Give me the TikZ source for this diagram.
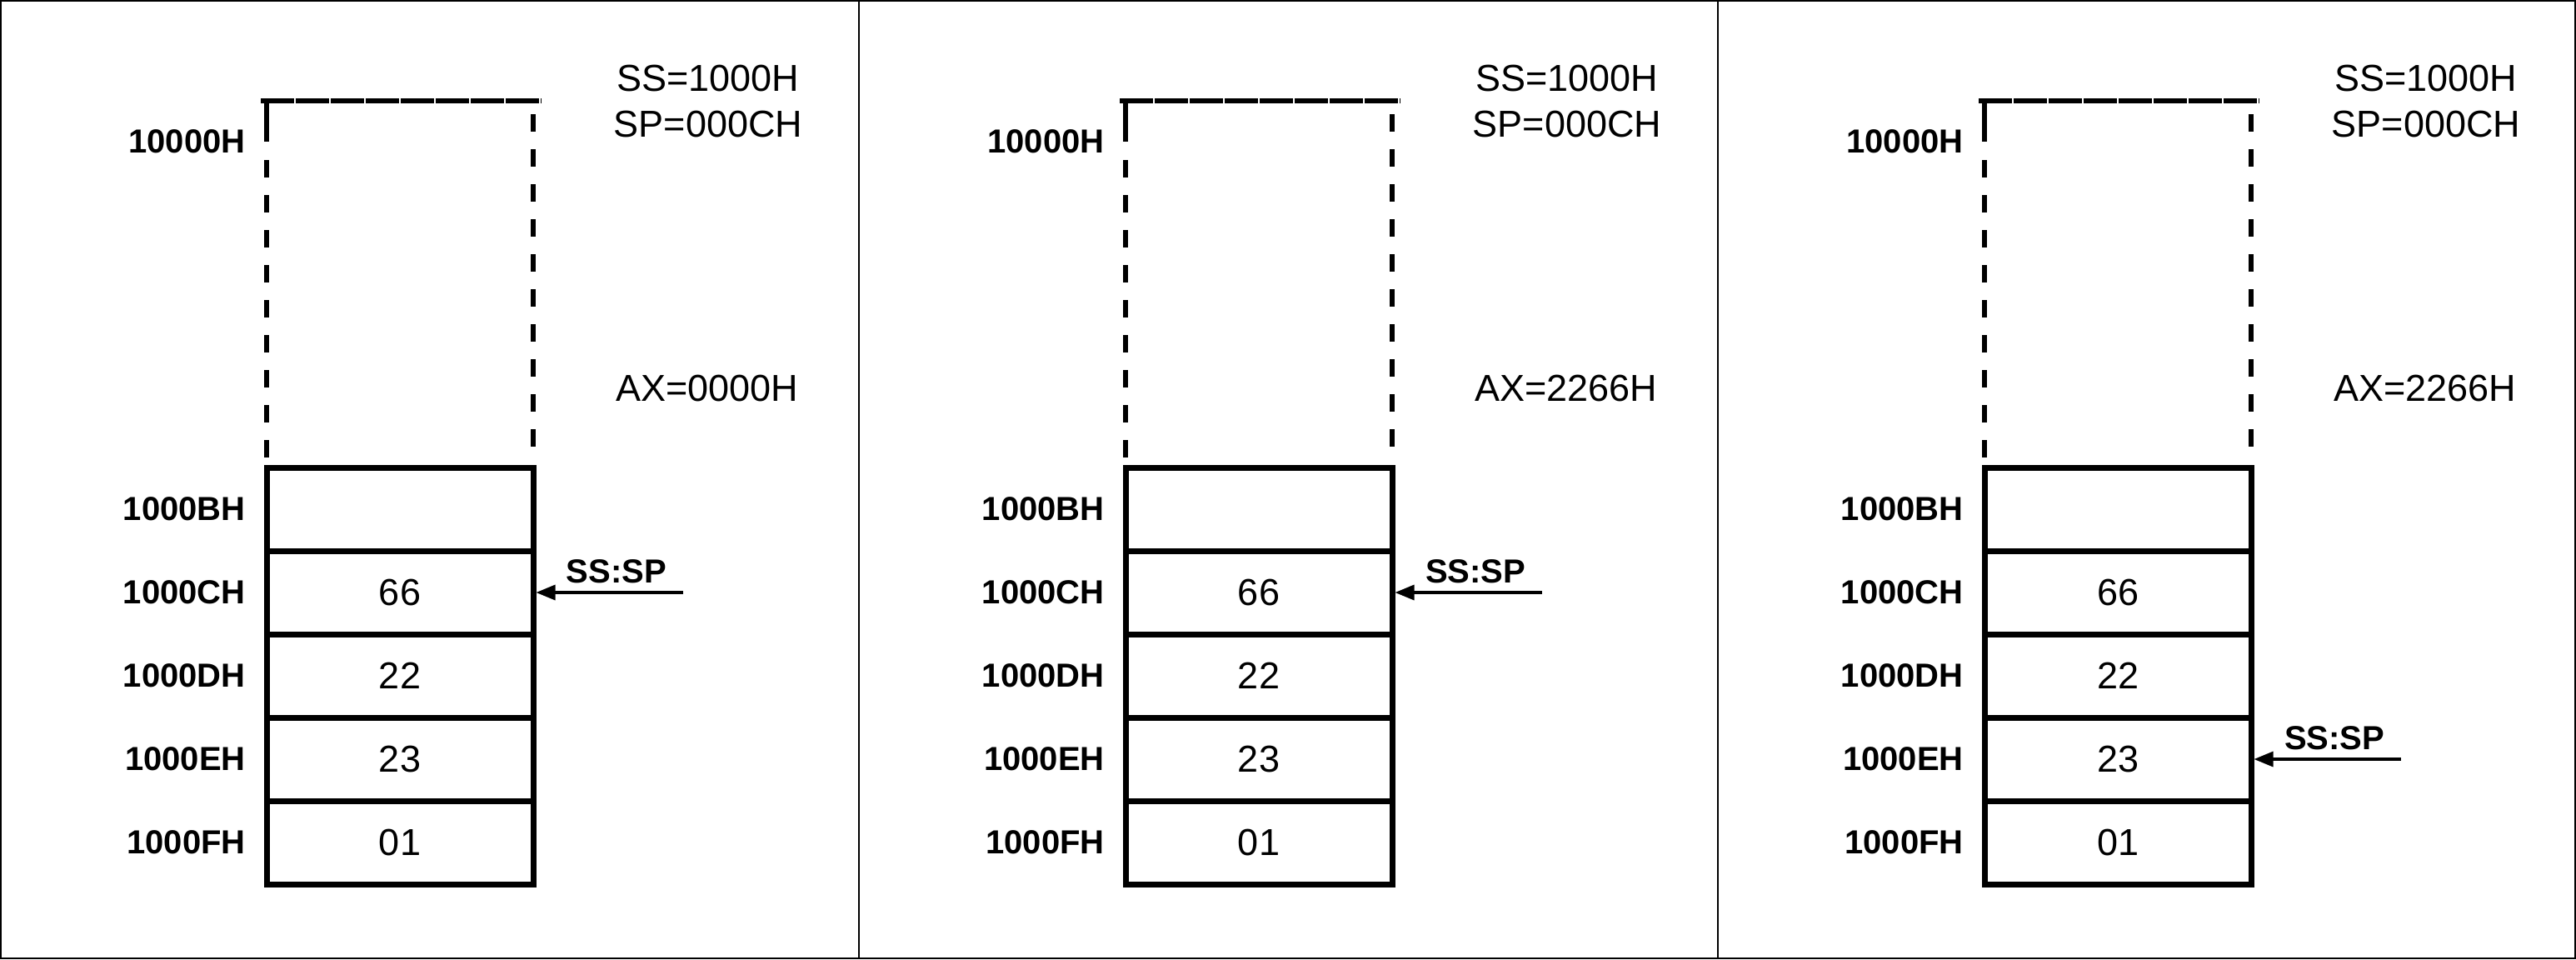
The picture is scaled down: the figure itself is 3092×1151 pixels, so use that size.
\documentclass[tikz,border=0pt]{standalone}
\usepackage{fontspec}
\setmainfont{Liberation Sans}
\usetikzlibrary{arrows.meta}
\begin{document}
\begin{tikzpicture}[x=0.5pt,y=-0.5pt,
  cell/.style={draw,line width=3.5pt,minimum width=160pt,minimum height=50pt,inner sep=0pt,font=\fontsize{22.5pt}{27pt}\selectfont},
  addr/.style={anchor=east,inner sep=0pt,font=\fontsize{20pt}{24pt}\selectfont\bfseries},
  reg/.style={inner sep=0pt,font=\fontsize{22.5pt}{27pt}\selectfont},
  ptr/.style={inner sep=0pt,font=\fontsize{20pt}{24pt}\selectfont\bfseries},
  dashline/.style={line width=3.3pt,dash pattern=on 10.5pt off 10.5pt},
  topline/.style={line width=3.3pt,dash pattern=on 19.8pt off 1.2pt},
  arrowline/.style={line width=1.6pt,-{Triangle[length=11.5pt,width=9pt]}},
  frame/.style={line width=1pt}]
\useasboundingbox (0,0) rectangle (3092,1151);
\draw[frame] (1,1) rectangle (3091,1150);
\draw[frame] (1031,0) -- (1031,1151);
\draw[frame] (2062,0) -- (2062,1151);
\foreach \i/\ox/\ax/\arow in {1/0/0000H/2, 2/1031/2266H/2, 3/2062/2266H/4}{
  % open top of the stack
  \draw[topline] (\ox+313,121) -- (\ox+650,121);
  \draw[line width=3.3pt] (\ox+320,121) -- (\ox+320,170);
  \draw[dashline] (\ox+320,192) -- (\ox+320,549);
  \draw[dashline] (\ox+640,137) -- (\ox+640,536);
  % cells
  \node[cell] (c\i-1) at (\ox+480,611) {};
  \node[cell] (c\i-2) at (\ox+480,711) {66};
  \node[cell] (c\i-3) at (\ox+480,811) {22};
  \node[cell] (c\i-4) at (\ox+480,911) {23};
  \node[cell] (c\i-5) at (\ox+480,1011) {01};
  % addresses
  \node[addr] (top\i) at (\ox+295,170) {10000H};
  \node[addr] (a\i-1) at (\ox+295,611) {1000BH};
  \node[addr] (a\i-2) at (\ox+295,711) {1000CH};
  \node[addr] (a\i-3) at (\ox+295,811) {1000DH};
  \node[addr] (a\i-4) at (\ox+295,911) {1000EH};
  \node[addr] (a\i-5) at (\ox+295,1011) {1000FH};
  % registers
  \node[reg] (ss\i) at (\ox+850,94) {SS=1000H};
  \node[reg] (sp\i) at (\ox+850,149) {SP=000CH};
  \node[reg] (ax\i) at (\ox+849,466) {AX=\ax};
  % stack pointer
  \coordinate (s\i) at (\ox+820,{611+(\arow-1)*100});
  \node[ptr] (lbl\i) at (\ox+740,{586+(\arow-1)*100}) {SS:SP};
  \draw[arrowline] (s\i) -- (c\i-\arow.east);
}
\end{tikzpicture}
\end{document}
